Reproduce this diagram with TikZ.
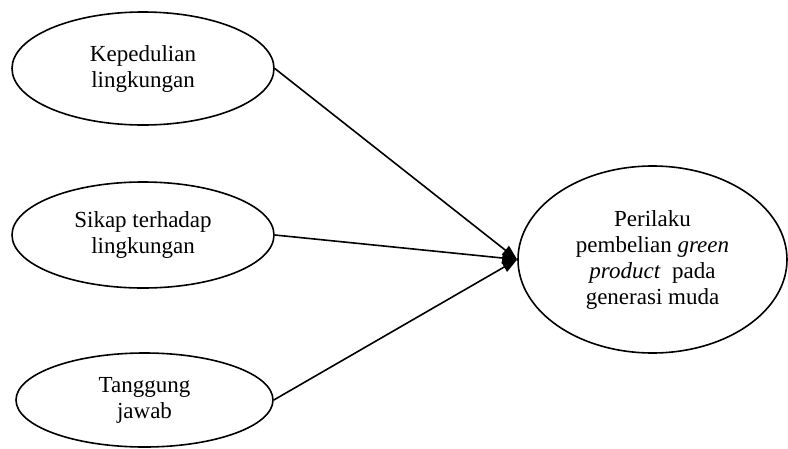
\documentclass[tikz,border=0pt]{standalone}
\usepackage{fontspec}
\setmainfont{Liberation Serif}
\usetikzlibrary{shapes.geometric,arrows.meta}
\begin{document}
\begin{tikzpicture}[x=1pt,y=-1pt,
  oval/.style={ellipse,draw=black,line width=1.6pt,inner sep=0pt,align=center,
    font=\fontsize{23}{26}\selectfont},
  conn/.style={line width=1.6pt,-{Triangle[length=15pt,width=11pt]}}]
\useasboundingbox (0,0) rectangle (788,448);
\node[oval,minimum width=262pt,minimum height=113pt] (k) at (143,68.5) {Kepedulian\\lingkungan};
\node[oval,minimum width=262pt,minimum height=106pt] (s) at (143,235) {Sikap terhadap\\lingkungan};
\node[oval,minimum width=257pt,minimum height=94pt] (t) at (144.5,400) {Tanggung\\jawab};
\node[oval,minimum width=269pt,minimum height=187pt] (p) at (652.5,259.5)
  {Perilaku\\pembelian \textit{green}\\\textit{product} \ pada\\generasi muda};
\draw[conn] (k.east) -- (p.west);
\draw[conn] (s.east) -- (p.west);
\draw[conn] (t.east) -- (p.west);
\end{tikzpicture}
\end{document}
